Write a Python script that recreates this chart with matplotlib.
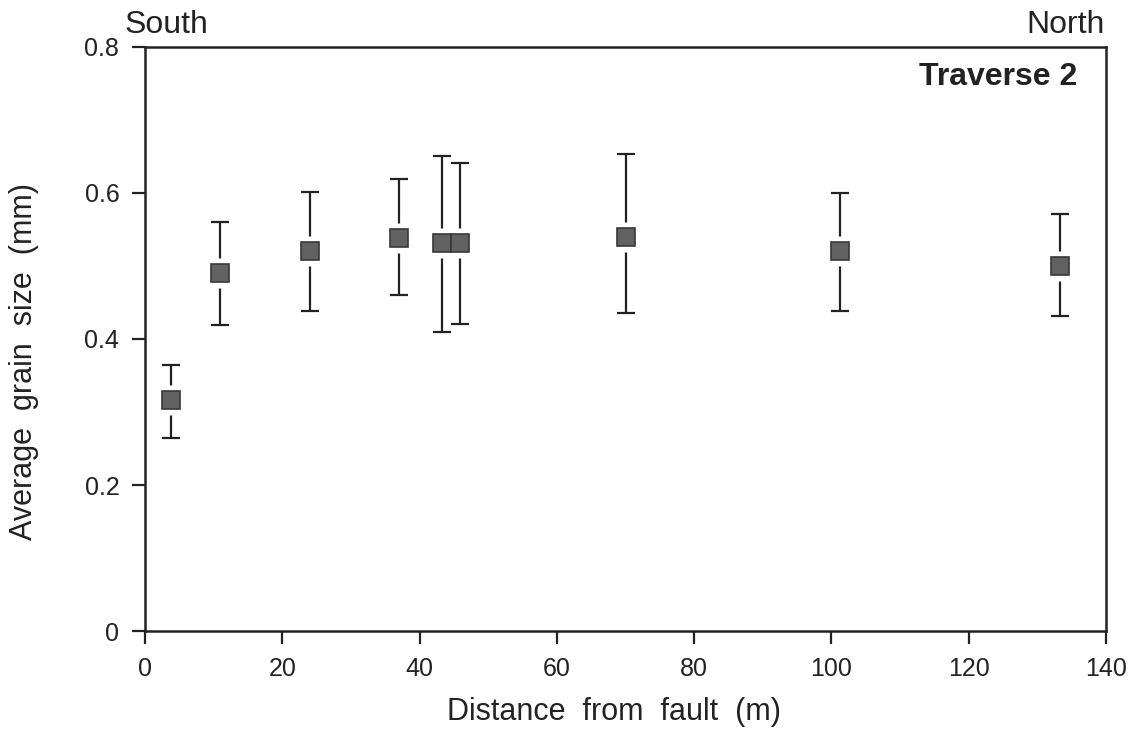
import matplotlib
matplotlib.use('Agg')
import matplotlib.pyplot as plt

# Grain size along traverse 2 (distance from fault in m, mean size and spread in mm)
distance = [3.8, 10.9, 24.1, 37.0, 43.2, 45.9, 70.0, 101.2, 133.3]
grain_size = [0.316, 0.490, 0.520, 0.538, 0.531, 0.531, 0.540, 0.520, 0.500]
size_high = [0.364, 0.560, 0.601, 0.619, 0.650, 0.641, 0.653, 0.600, 0.571]
size_low = [0.264, 0.419, 0.439, 0.460, 0.409, 0.420, 0.435, 0.439, 0.431]

x_ticks = [0, 20, 40, 60, 80, 100, 120, 140]
y_ticks = [0, 0.2, 0.4, 0.6, 0.8]
y_tick_labels = ['0', '0.2', '0.4', '0.6', '0.8']

INK = '#222222'
plt.rcParams['font.family'] = ['Liberation Sans', 'DejaVu Sans']

fig = plt.figure(figsize=(11.3, 7.48), dpi=100)
ax = fig.add_axes([0.1283, 0.1564, 0.8505, 0.7808])

err_low = [g - lo for g, lo in zip(grain_size, size_low)]
err_high = [hi - g for g, hi in zip(grain_size, size_high)]
ax.errorbar(distance, grain_size, yerr=[err_low, err_high], fmt='none',
            ecolor=INK, elinewidth=1.6, capsize=6.5, capthick=1.6, zorder=2)
# white squares leave a small gap between bar and symbol
ax.plot(distance, grain_size, linestyle='none', marker='s', markersize=21,
        markerfacecolor='white', markeredgecolor='none', zorder=3)
ax.plot(distance, grain_size, linestyle='none', marker='s', markersize=13,
        markerfacecolor='#626262', markeredgecolor='#383838', markeredgewidth=1.2, zorder=4)

ax.set_xlim(0, 140)
ax.set_ylim(0, 0.8)
ax.set_xticks(x_ticks)
ax.set_xticklabels([str(t) for t in x_ticks], fontsize=18)
ax.set_yticks(y_ticks)
ax.set_yticklabels(y_tick_labels, fontsize=18)
ax.tick_params(direction='out', length=9.5, width=1.6, color=INK, labelcolor=INK, pad=9)
for spine in ax.spines.values():
    spine.set_linewidth(1.8)
    spine.set_color(INK)

ax.set_xlabel('Distance  from  fault  (m)', fontsize=22, color=INK)
ax.xaxis.set_label_coords(0.488, -0.113)
fig.text(24 / 1130, 1 - 362 / 748, 'Average  grain  size  (mm)', rotation=90,
         ha='center', va='center', fontsize=22, color=INK)

ax.text(0.970, 0.935, 'Traverse 2', transform=ax.transAxes, ha='right', va='baseline',
        fontsize=23, fontweight='bold', color=INK)
ax.text(-0.021, 1.024, 'South', transform=ax.transAxes, ha='left', va='baseline',
        fontsize=23, color=INK)
ax.text(0.999, 1.024, 'North', transform=ax.transAxes, ha='right', va='baseline',
        fontsize=23, color=INK)

fig.savefig('out.png', dpi=100, facecolor='white')
